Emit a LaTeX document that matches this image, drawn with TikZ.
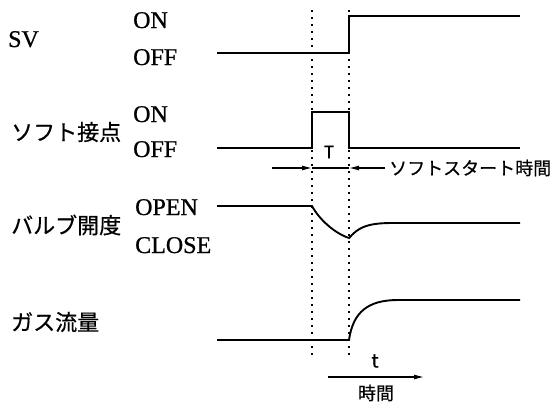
\documentclass[tikz,border=0pt]{standalone}
\usepackage{fontspec}
\setmainfont{Liberation Serif}
\newfontfamily\lvlfont{Liberation Serif}[FakeBold=0.8]
\newfontfamily\jp{Noto Sans CJK JP}[FakeBold=0.6]
\usetikzlibrary{arrows.meta}
\tikzset{
  wave/.style={line width=1.9pt, line join=miter},
  guide/.style={line width=2.2pt, dash pattern=on 2pt off 5pt},
  dimline/.style={line width=1.1pt},
  dimarrow/.style={line width=1.1pt, -{Latex[length=10pt,width=5pt]}},
  lvl/.style={inner sep=0pt, anchor=base west, font=\lvlfont\fontsize{24}{24}\selectfont},
  sig/.style={inner sep=0pt, anchor=west, font=\jp\fontsize{22}{22}\selectfont},
  small/.style={inner sep=0pt, font=\jp\fontsize{18}{18}\selectfont},
}
\begin{document}
\begin{tikzpicture}[x=1pt,y=-1pt]
\useasboundingbox (0,0) rectangle (556,402);
% labels
\node[lvl] (sv) at (8,47) {SV};
\node[lvl] (svon) at (133,28) {ON};
\node[lvl] (svoff) at (133,65) {OFF};
\node[sig] (soft) at (11,132) {ソフト接点};
\node[lvl] (son) at (133,122) {ON};
\node[lvl] (soff) at (133,157) {OFF};
\node[sig] (valve) at (11,225) {バルブ開度};
\node[lvl] (vopen) at (135,215) {OPEN};
\node[lvl] (vclose) at (135,253) {CLOSE};
\node[sig] (gas) at (11,322) {ガス流量};
% guides
\coordinate (g1t) at (312,10); \coordinate (g1b) at (312,355);
\coordinate (g2t) at (349,10); \coordinate (g2b) at (349,355);
\draw[guide] (g1t) -- (g1b);
\draw[guide] (g2t) -- (g2b);
% SV
\draw[wave] (217,53) -- (349,53) -- (349,16) -- (520,16);
% soft contact
\draw[wave] (217,148) -- (312,148) -- (312,112) -- (349,112) -- (349,148) -- (520,148);
\node[inner sep=0pt, font=\jp\fontsize{17}{17}\selectfont] (T) at (329,152) {T};
% soft start dimension
\coordinate (a1) at (272,168); \coordinate (a2) at (312,168);
\coordinate (b1) at (385,168); \coordinate (b2) at (349,168);
\draw[dimarrow] (a1) -- (a2);
\draw[dimarrow] (b1) -- (b2);
\draw[dimline] (a2) -- (b2);
\node[small, anchor=west] (sst) at (389,168) {ソフトスタート時間};
% valve
\draw[wave] (217,206) -- (312,206)
  .. controls (319,219) and (334,233) .. (349,238)
  .. controls (358,228) and (366,223) .. (392,223) -- (520,223);
% gas
\draw[wave] (217,340) -- (349,340)
  .. controls (353,312) and (368,300) .. (398,300) -- (520,300);
% time axis
\node[inner sep=0pt, font=\jp\fontsize{19}{19}\selectfont] (t) at (375,361) {t};
\coordinate (ta) at (328,377); \coordinate (tb) at (424,377);
\draw[dimarrow] (ta) -- (tb);
\node[small] (jikan) at (376,393) {時間};
\end{tikzpicture}
\end{document}
